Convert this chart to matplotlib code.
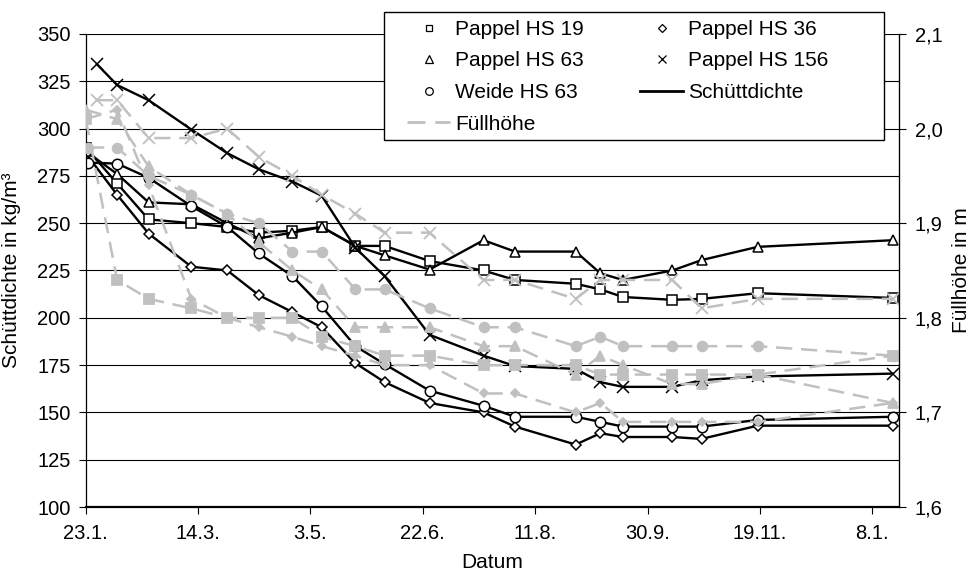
import numpy as np
import matplotlib.pyplot as plt
from matplotlib.lines import Line2D
from matplotlib.patches import Rectangle
from matplotlib.ticker import FuncFormatter

plt.rcParams['font.family'] = ['Liberation Sans', 'DejaVu Sans']

# Messtage (Tage seit 23.1.)
tage = [0, 14, 28, 47, 63, 77, 92, 105, 120, 133, 153, 177, 191, 218, 229, 239, 261, 274, 299, 359]
tage_hs156 = [5, 14, 28, 47, 63, 77, 92, 105, 120, 133, 153, 177, 191, 218, 229, 239, 261, 274, 299, 359]
tage_weide = [1, 14, 28, 47, 63, 77, 92, 105, 120, 133, 153, 177, 191, 218, 229, 239, 261, 274, 299, 359]

# Schüttdichte in kg/m³
rho_hs19 = [290, 271, 252, 250, 248, 245, 246, 248, 238, 238, 230, 225, 220, 218, 215, 211, 209.5, 210, 213, 210.5]
rho_hs36 = [287, 265, 244.5, 227, 225, 212, 203, 195, 176, 166, 155, 150, 142.5, 133, 139, 137, 137, 136, 143, 143]
rho_hs63 = [288, 276, 261, 260, 250, 242, 245, 248, 238, 233, 225.5, 241, 235, 235, 223.5, 220, 225, 230.5, 237.5, 241]
rho_hs156 = [334, 323, 315, 299.5, 287, 278.5, 272, 264.5, 237, 222, 191, 180, 174.5, 173, 166, 163.5, 163.5, 167, 169, 170.5]
rho_weide = [282, 281.5, 274, 259, 248, 234, 222, 206, 185, 175.5, 161.5, 153.5, 147.7, 147.7, 145, 142.5, 142.5, 142.5, 146, 147.7]

# Füllhöhe in m
h_hs19 = [2.01, 1.84, 1.82, 1.81, 1.80, 1.80, 1.80, 1.78, 1.77, 1.76, 1.76, 1.75, 1.75, 1.75, 1.74, 1.74, 1.74, 1.74, 1.74, 1.76]
h_hs36 = [2.01, 2.02, 1.94, 1.82, 1.80, 1.79, 1.78, 1.77, 1.76, 1.75, 1.75, 1.72, 1.72, 1.70, 1.71, 1.69, 1.69, 1.69, 1.69, 1.71]
h_hs63 = [2.02, 2.01, 1.96, 1.93, 1.91, 1.88, 1.85, 1.83, 1.79, 1.79, 1.79, 1.77, 1.77, 1.74, 1.76, 1.75, 1.73, 1.73, 1.74, 1.71]
h_hs156 = [2.03, 2.03, 1.99, 1.99, 2.00, 1.97, 1.95, 1.93, 1.91, 1.89, 1.89, 1.84, 1.84, 1.82, 1.84, 1.84, 1.84, 1.81, 1.82, 1.82]
h_weide = [1.98, 1.98, 1.95, 1.93, 1.91, 1.90, 1.87, 1.87, 1.83, 1.83, 1.81, 1.79, 1.79, 1.77, 1.78, 1.77, 1.77, 1.77, 1.77, 1.76]

x_ticks = [0, 50, 100, 150, 200, 250, 300, 350]
x_labels = ['23.1.', '14.3.', '3.5.', '22.6.', '11.8.', '30.9.', '19.11.', '8.1.']

grau = '#c0c0c0'
fs = 14.5

fig = plt.figure(figsize=(9.75, 5.77), dpi=100)
ax = fig.add_axes([0.0879, 0.1213, 0.8345, 0.8198])
ax2 = ax.twinx()

# Schüttdichte (linke Achse)
serien_rho = [
    (tage, rho_hs19, 's', 6.5),
    (tage, rho_hs36, 'D', 5),
    (tage, rho_hs63, '^', 7.5),
    (tage_hs156, rho_hs156, 'x', 9),
    (tage_weide, rho_weide, 'o', 7.5),
]
for t, v, m, ms in serien_rho:
    ax.plot(t, v, color='black', lw=1.7, marker=m, ms=ms, mfc='white', mec='black', mew=1.1)

# Füllhöhe (rechte Achse)
serien_h = [
    (tage, h_hs19, 's', 6.5),
    (tage, h_hs36, 'D', 4.5),
    (tage, h_hs63, '^', 7),
    (tage_hs156, h_hs156, 'x', 9),
    (tage_weide, h_weide, 'o', 7),
]
for t, v, m, ms in serien_h:
    ax2.plot(t, v, color=grau, lw=1.8, ls=(0, (6.5, 3.5)), marker=m, ms=ms, mfc=grau, mec=grau, mew=1.3)

ax.set_xlim(0, 362)
ax.set_ylim(100, 350)
ax2.set_ylim(1.6, 2.1)
ax.set_yticks(np.arange(100, 351, 25))
ax2.set_yticks(np.arange(1.6, 2.11, 0.1))
ax2.yaxis.set_major_formatter(FuncFormatter(lambda v, p: f'{v:.1f}'.replace('.', ',')))
ax.set_xticks(x_ticks)
ax.set_xticklabels(x_labels)

ax.yaxis.grid(True, color='black', lw=0.8)
ax.set_axisbelow(True)
for a in (ax, ax2):
    a.spines['top'].set_visible(False)
    a.tick_params(labelsize=fs, direction='out', length=5, width=0.8, pad=6)
ax.tick_params(axis='x', pad=7)
ax.spines['bottom'].set_linewidth(1.6)
ax.spines['left'].set_linewidth(0.9)
ax2.spines['right'].set_linewidth(0.9)
ax2.spines['left'].set_visible(False)
ax2.spines['bottom'].set_visible(False)

ax.set_xlabel('Datum', fontsize=15, va='center')
ax.set_ylabel('Schüttdichte in kg/m³', fontsize=15, va='center')
ax2.set_ylabel('Füllhöhe in m', fontsize=15, va='center')
ax.xaxis.set_label_coords(0.5, -0.118)
ax.yaxis.set_label_coords(-0.0906, 0.5)
ax2.yaxis.set_label_coords(1.077, 0.5)

# Legendenrahmen wie in Excel
rahmen = Rectangle((0.3938, 0.7574), 0.5128, 0.2218, transform=fig.transFigure,
                   facecolor='white', edgecolor='black', lw=1.0, zorder=4, clip_on=False)
ax2.add_patch(rahmen)

handles = [
    Line2D([], [], ls='none', marker='s', ms=5, mfc='white', mec='black', mew=0.9),
    Line2D([], [], ls='none', marker='^', ms=5.5, mfc='white', mec='black', mew=0.9),
    Line2D([], [], ls='none', marker='o', ms=5.5, mfc='white', mec='black', mew=0.9),
    Line2D([], [], color=grau, lw=2, ls=(0, (6.5, 3.5))),
    Line2D([], [], ls='none', marker='D', ms=4, mfc='white', mec='black', mew=0.9),
    Line2D([], [], ls='none', marker='x', ms=6, mec='black', mew=0.9),
    Line2D([], [], color='black', lw=2),
]
labels = ['Pappel HS 19', 'Pappel HS 63', 'Weide HS 63', 'Füllhöhe',
          'Pappel HS 36', 'Pappel HS 156', 'Schüttdichte']
leg = ax2.legend(handles, labels, ncol=2, loc='upper left',
                 bbox_to_anchor=(407 / 975, 1 - 20 / 577), bbox_transform=fig.transFigure,
                 fontsize=15, frameon=False, borderpad=0, labelspacing=0.6, handlelength=2.07,
                 handletextpad=0.24, columnspacing=2.7, borderaxespad=0)
leg.set_zorder(5)

fig.savefig('out.png', dpi=100)
